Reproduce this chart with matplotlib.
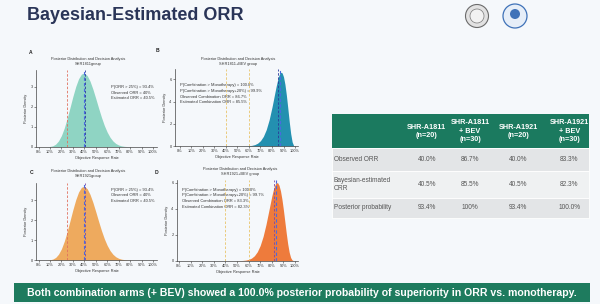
import matplotlib
matplotlib.use("Agg")
import matplotlib.pyplot as plt
from matplotlib.patches import Rectangle, Circle
from matplotlib.ticker import PercentFormatter

plt.rcParams['font.family'] = ['Liberation Sans', 'DejaVu Sans']

W, H = 600, 304

# posterior density curves
orr_mono = [0.0, 0.05, 0.075, 0.1, 0.125, 0.15, 0.175, 0.2, 0.225, 0.25, 0.275, 0.3,
            0.325, 0.35, 0.375, 0.4, 0.425, 0.45, 0.475, 0.5, 0.525, 0.55, 0.575, 0.6,
            0.625, 0.65, 0.675, 0.7, 0.725, 0.75, 0.775, 0.8, 0.85, 1.0]
dens_1811 = [0, 0.0001, 0.002, 0.012, 0.046, 0.129, 0.292, 0.557, 0.935, 1.414, 1.957, 2.510,
             3.011, 3.401, 3.635, 3.689, 3.562, 3.281, 2.882, 2.416, 1.931, 1.470, 1.063, 0.729,
             0.471, 0.286, 0.162, 0.085, 0.041, 0.018, 0.007, 0.002, 0, 0]
dens_1921 = [0, 0.0001, 0.002, 0.012, 0.046, 0.129, 0.292, 0.557, 0.935, 1.414, 1.957, 2.510,
             3.011, 3.401, 3.635, 3.689, 3.562, 3.281, 2.882, 2.416, 1.931, 1.470, 1.063, 0.729,
             0.471, 0.286, 0.162, 0.085, 0.041, 0.018, 0.007, 0.002, 0, 0]

orr_combo = [0.0, 0.45, 0.475, 0.5, 0.525, 0.55, 0.575, 0.6, 0.625, 0.65, 0.675, 0.7, 0.725,
             0.75, 0.775, 0.8, 0.8125, 0.825, 0.8375, 0.85, 0.8625, 0.875, 0.8875, 0.9,
             0.9125, 0.925, 0.9375, 0.95, 0.9625, 0.975, 0.9875, 1.0]
dens_1811_bev = [0, 0, 0.0002, 0.0005, 0.0016, 0.0042, 0.011, 0.026, 0.058, 0.125, 0.252, 0.481,
                 0.868, 1.475, 2.354, 3.502, 4.149, 4.810, 5.446, 6.004, 6.426, 6.643, 6.597,
                 6.239, 5.558, 4.585, 3.410, 2.189, 1.116, 0.375, 0.046, 0]
dens_1921_bev = [0, 0, 0.0011, 0.0031, 0.008, 0.020, 0.045, 0.098, 0.198, 0.380, 0.687, 1.168,
                 1.865, 2.786, 3.872, 4.962, 5.426, 5.782, 5.988, 6.005, 5.805, 5.378, 4.738,
                 3.929, 3.020, 2.107, 1.288, 0.653, 0.247, 0.055, 0.003, 0]

x_ticks = [0, 0.1, 0.2, 0.3, 0.4, 0.5, 0.6, 0.7, 0.8, 0.9, 1.0]

# reference lines
threshold = 0.25
mono_obs, mono_est = 0.40, 0.405
mono_ref, mono_ref20 = 0.40, 0.60
bev1811_obs, bev1811_est = 0.867, 0.855
bev1921_obs, bev1921_est = 0.833, 0.823

# table
col_headers = ["SHR-A1811\n(n=20)", "SHR-A1811\n+ BEV\n(n=30)",
               "SHR-A1921\n(n=20)", "SHR-A1921\n+ BEV\n(n=30)"]
row_labels = ["Observed ORR", "Bayesian-estimated\nORR", "Posterior probability"]
observed_orr = ["40.0%", "86.7%", "40.0%", "83.3%"]
bayes_orr = ["40.5%", "85.5%", "40.5%", "82.3%"]
post_prob = ["93.4%", "100%", "93.4%", "100.0%"]

fig = plt.figure(figsize=(6, 3.04), dpi=100, facecolor="#f5f8fb")
bg = fig.add_axes([0, 0, 1, 1], zorder=-1)
bg.set_xlim(0, W)
bg.set_ylim(H, 0)
bg.axis("off")

bg.text(27, 16, "Bayesian-Estimated ORR", fontsize=13, fontweight="bold",
        color="#2a3558", va="center", ha="left")

# logos (rough)
bg.add_patch(Circle((477, 16), 11.5, facecolor="#e2e2e2", edgecolor="#6b6b6b", lw=0.8))
bg.add_patch(Circle((477, 16), 7, facecolor="#f2f2f2", edgecolor="#777777", lw=0.5))
bg.add_patch(Circle((515, 16), 12, facecolor="#e6eef8", edgecolor="#3f72b8", lw=0.9))
bg.add_patch(Circle((515, 14), 5, facecolor="#3f72b8", edgecolor="none"))


def panel(box, xlim, ylim, yticks, x, y, fill, title, letter, lpos, tpos, notes, npos):
    l, t, r, b = box
    ax = fig.add_axes([l / W, 1 - b / H, (r - l) / W, (b - t) / H])
    ax.set_facecolor("none")
    ax.fill_between(x, 0, y, color=fill, lw=0)
    ax.set_xlim(*xlim)
    ax.set_ylim(*ylim)
    ax.set_xticks(x_ticks)
    ax.set_yticks(yticks)
    ax.xaxis.set_major_formatter(PercentFormatter(1.0, decimals=0))
    for s in ["top", "right"]:
        ax.spines[s].set_visible(False)
    for s in ["left", "bottom"]:
        ax.spines[s].set_linewidth(0.5)
        ax.spines[s].set_color("#444444")
    ax.tick_params(labelsize=2.8, length=1.5, width=0.4, pad=1, colors="#333333")
    ax.set_xlabel("Objective Response Rate", fontsize=2.8, labelpad=1, color="#333333")
    ax.set_ylabel("Posterior Density", fontsize=2.8, labelpad=1.5, color="#333333")
    bg.text(lpos[0], lpos[1], letter, fontsize=3.6, fontweight="bold", ha="center", va="center",
            color="#222222")
    bg.text(tpos[0], tpos[1], title, fontsize=2.8, ha="center", va="center",
            color="#333333", linespacing=1.3)
    bg.text(npos[0], npos[1], notes, fontsize=2.9, ha="left", va="top",
            color="#333333", linespacing=1.55)
    return ax


axA = panel((36, 70, 157, 146.7), (-0.022, 1.035), (0, 3.84), [0, 1, 2, 3],
            orr_mono, dens_1811, "#8fd4c3",
            "Posterior Distribution and Decision Analysis\nSHR1811group", "A", (31, 52.5),
            (88, 61.5),
            "P(ORR > 25%) = 93.4%\nObserved ORR = 40%\nEstimated ORR = 40.5%", (110.7, 85))
axA.axvline(threshold, color="#e0705e", ls=(0, (3, 2)), lw=0.6)
axA.axvline(mono_obs, color="#4a6ae0", ls=(0, (3, 2)), lw=0.8)
axA.axvline(mono_est, color="#2a3a9a", ls=(0, (3, 2)), lw=0.6)

axB = panel((175, 69, 298, 146), (-0.043, 1.026), (0, 6.94), [0, 2, 4, 6],
            orr_combo, dens_1811_bev, "#2390b0",
            "Posterior Distribution and Decision Analysis\nSHR1811+BEV group", "B", (157, 51),
            (238, 61.8),
            "P(Combination > Monotherapy) = 100.0%\nP(Combination > Monotherapy+20%) = 99.9%\n"
            "Observed Combination ORR = 86.7%\nEstimated Combination ORR = 85.5%", (180, 83.3))
axB.axvline(mono_ref, color="#e8c46a", ls=(0, (3, 2)), lw=0.6)
axB.axvline(mono_ref20, color="#e8c46a", ls=(0, (3, 2)), lw=0.6)
axB.axvline(bev1811_obs, color="#4a6ae0", ls=(0, (3, 2)), lw=0.8)
axB.axvline(bev1811_est, color="#2a3a9a", ls=(0, (3, 2)), lw=0.6)

axC = panel((36, 183, 157, 260), (-0.022, 1.035), (0, 3.85), [0, 1, 2, 3],
            orr_mono, dens_1921, "#eeaa5e",
            "Posterior Distribution and Decision Analysis\nSHR1921group", "C", (31.5, 172),
            (88, 173.8),
            "P(ORR > 25%) = 93.4%\nObserved ORR = 40%\nEstimated ORR = 40.5%", (110.7, 187.6))
axC.axvline(threshold, color="#e0705e", ls=(0, (3, 2)), lw=0.6)
axC.axvline(mono_obs, color="#4a6ae0", ls=(0, (3, 2)), lw=0.8)
axC.axvline(mono_est, color="#7a4aa8", ls=(0, (3, 2)), lw=0.6)

axD = panel((177, 179.5, 298, 260.7), (-0.017, 1.026), (0, 6.25), [0, 2, 4, 6],
            orr_combo, dens_1921_bev, "#ee7b3c",
            "Posterior Distribution and Decision Analysis\nSHR1921+BEV group", "D", (156, 172),
            (240, 171.8),
            "P(Combination > Monotherapy) = 100.0%\nP(Combination > Monotherapy+20%) = 99.7%\n"
            "Observed Combination ORR = 83.3%\nEstimated Combination ORR = 82.3%", (182, 187.6))
axD.axvline(mono_ref, color="#e8c46a", ls=(0, (3, 2)), lw=0.6)
axD.axvline(mono_ref20, color="#e8c46a", ls=(0, (3, 2)), lw=0.6)
axD.axvline(bev1921_obs, color="#4a6ae0", ls=(0, (3, 2)), lw=0.8)
axD.axvline(bev1921_est, color="#7a4aa8", ls=(0, (3, 2)), lw=0.6)

# ---- table ----
tl, tr = 331.5, 589
col_x = [426.7, 470, 518, 569.3]
bg.add_patch(Rectangle((tl, 114), tr - tl, 34.3, facecolor="#1b7a5f", edgecolor="none"))
for cx, hdr in zip(col_x, col_headers):
    bg.text(cx, 131.2, hdr, fontsize=5.2, fontweight="bold", color="white",
            ha="center", va="center", linespacing=1.25)

row_tops = [148.3, 171, 197.5]
row_bots = [171, 197.5, 218]
row_cols = ["#e3e5e7", "#eff1f2", "#e3e5e7"]
row_vals = [observed_orr, bayes_orr, post_prob]
for top, bot, c, lab, vals in zip(row_tops, row_bots, row_cols, row_labels, row_vals):
    bg.add_patch(Rectangle((tl, top), tr - tl, bot - top, facecolor=c,
                           edgecolor="white", lw=0.6))
    yc = (top + bot) / 2
    bg.text(tl + 2.5, yc, lab, fontsize=4.7, color="#555555", ha="left", va="center",
            linespacing=1.3)
    for cx, v in zip(col_x, vals):
        bg.text(cx, yc, v, fontsize=4.7, color="#555555", ha="center", va="center")

# ---- footer ----
bg.add_patch(Rectangle((14, 283.3), 576, 18.4, facecolor="#1e7b5e", edgecolor="none"))
bg.text(302, 292.5, "Both combination arms (+ BEV) showed a 100.0% posterior probability "
        "of superiority in ORR vs. monotherapy.", fontsize=7.6, fontweight="bold",
        color="white", ha="center", va="center")

fig.savefig("out.png", dpi=100, facecolor=fig.get_facecolor())
